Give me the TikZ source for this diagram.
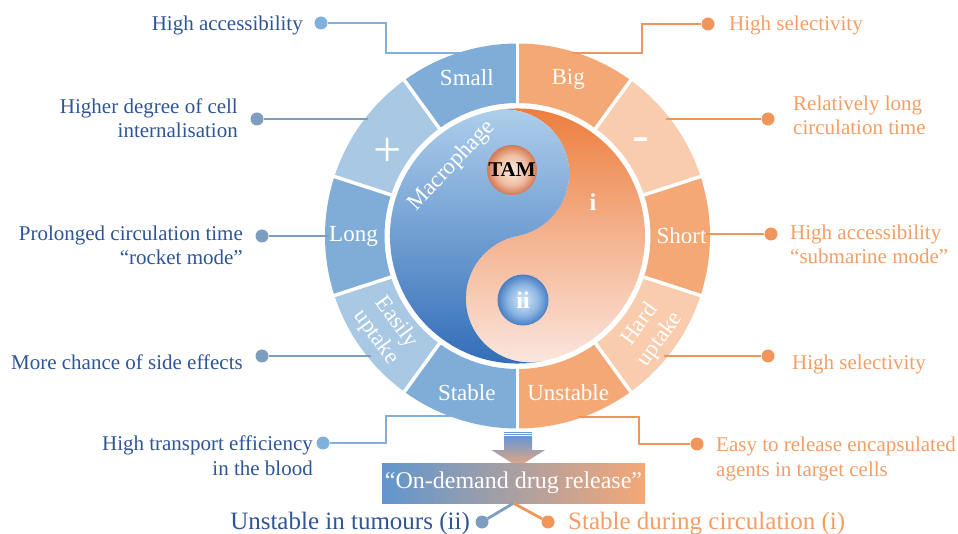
\documentclass[tikz,border=0pt]{standalone}
\usepackage{fontspec}
\setmainfont{Liberation Serif}
\definecolor{segB}{RGB}{128,173,216}
\definecolor{segBl}{RGB}{168,200,228}
\definecolor{segO}{RGB}{244,168,118}
\definecolor{segOl}{RGB}{248,204,172}
\definecolor{ltxt}{RGB}{47,85,151}
\definecolor{rtxt}{RGB}{242,158,102}
\definecolor{lineBa}{RGB}{128,176,220}
\definecolor{lineBb}{RGB}{126,158,192}
\definecolor{lineO}{RGB}{240,150,90}
\definecolor{yyBa}{RGB}{176,208,236}
\definecolor{yyBm}{RGB}{118,164,213}
\definecolor{yyBb}{RGB}{45,105,182}
\definecolor{yyOa}{RGB}{236,122,55}
\definecolor{yyOm}{RGB}{242,165,128}
\definecolor{yyOb}{RGB}{251,232,225}
\definecolor{boxL}{RGB}{96,150,206}
\definecolor{boxM}{RGB}{178,160,178}
\definecolor{boxR}{RGB}{245,168,118}
\definecolor{arrT}{RGB}{100,150,210}
\definecolor{arrB}{RGB}{240,168,125}
\definecolor{tamA}{RGB}{252,234,222}
\definecolor{tamB}{RGB}{240,190,164}
\definecolor{tamC}{RGB}{210,120,84}
\definecolor{iiA}{RGB}{214,232,249}
\definecolor{iiB}{RGB}{140,182,226}
\definecolor{iiC}{RGB}{72,126,196}
\pgfdeclareradialshading{tamshade}{\pgfpoint{0bp}{0bp}}{color(0bp)=(tamA); color(15bp)=(tamB); color(25bp)=(tamC); color(50bp)=(tamC)}
\pgfdeclareradialshading{iishade}{\pgfpoint{0bp}{0bp}}{color(0bp)=(iiA); color(15bp)=(iiB); color(25bp)=(iiC); color(50bp)=(iiC)}
\begin{document}
\begin{tikzpicture}[x=1pt,y=1pt,
  sidefont/.style={font=\fontsize{21}{24.5}\selectfont},
  lefttext/.style={sidefont,text=ltxt,align=right,inner sep=0pt,anchor=base east},
  righttext/.style={sidefont,text=rtxt,align=left,inner sep=0pt,anchor=base west},
  seglabel/.style={font=\fontsize{23}{25}\selectfont,text=white,align=center,inner sep=0pt},
  bigsign/.style={font=\fontsize{50}{50}\selectfont,text=white,inner sep=0pt},
  dotshape/.style={circle,inner sep=0pt,minimum size=13pt},
  dotBa/.style={dotshape,fill=lineBa},
  dotBb/.style={dotshape,fill=lineBb},
  dotO/.style={dotshape,fill=lineO},
  connBa/.style={draw=lineBa,line width=2.8pt},
  connBb/.style={draw=lineBb,line width=2.8pt},
  connO/.style={draw=lineO,line width=2.8pt}]
\useasboundingbox (0,0) rectangle (958,533);

% ring segments
\begin{scope}[shift={(517.5,297)}]
\foreach \a/\b/\c in {54/90/segO, 18/54/segOl, -18/18/segO, -54/-18/segOl, -90/-54/segO, -126/-90/segB, -162/-126/segBl, 162/198/segB, 126/162/segBl, 90/126/segB}
  \fill[\c] (\a:192.5) arc[start angle=\a, end angle=\b, radius=192.5] -- (\b:133) arc[start angle=\b, end angle=\a, radius=133] -- cycle;
\foreach \a in {90,54,...,-234}
  \draw[white, line width=3.5pt] (\a:130) -- (\a:196);
\end{scope}

% yin-yang
\begin{scope}[shift={(517.5,297)}, rotate=11]
\shade[shading angle=20, top color=yyOa, middle color=yyOm, bottom color=yyOb]
  (0,127.5) arc[start angle=90,end angle=-90,radius=63.75]
  arc[start angle=90,end angle=270,radius=63.75]
  arc[start angle=-90,end angle=90,radius=127.5] -- cycle;
\shade[shading angle=50, top color=yyBa, middle color=yyBm, bottom color=yyBb]
  (0,127.5) arc[start angle=90,end angle=-90,radius=63.75]
  arc[start angle=90,end angle=270,radius=63.75]
  arc[start angle=-90,end angle=-270,radius=127.5] -- cycle;
\end{scope}

% balls
\shade[shading=tamshade] (512,363) circle[radius=25];
\node[font=\bfseries\fontsize{21}{21}\selectfont, text=black, inner sep=0pt] (tam) at (512,363) {TAM};
\shade[shading=iishade] (523,233) circle[radius=25.5];
\node[font=\bfseries\fontsize{24}{24}\selectfont, text=white, inner sep=0pt] (ii) at (523,233) {ii};
\node[font=\bfseries\fontsize{24}{24}\selectfont, text=white, inner sep=0pt] (i) at (593,331) {i};
\node[font=\fontsize{23}{23}\selectfont, text=white, inner sep=0pt, rotate=47] (macro) at (452,367) {Macrophage};

% segment labels
\node[seglabel] (small) at (466.8,455) {Small};
\node[seglabel] (big) at (568.2,454) {Big};
\node[bigsign] (plus) at (388,381) {+};
\node[bigsign] (minus) at (641,388) {-};
\node[seglabel] (long) at (353.5,297) {Long};
\node[seglabel] (short) at (681.5,297) {Short};
\node[seglabel, rotate=-54] (easy) at (386,203) {Easily\\uptake};
\node[seglabel, rotate=54] (hard) at (650.2,201) {Hard\\uptake};
\node[seglabel] (stable) at (466.8,140) {Stable};
\node[seglabel] (unstable) at (568.2,140) {Unstable};

% left texts (base = last line)
\node[lefttext] (tL1) at (303,502) {High accessibility};
\node[lefttext] (tL2) at (238,395) {Higher degree of cell\\internalisation};
\node[lefttext] (tL3) at (243,268) {Prolonged circulation time\\“rocket mode”};
\node[lefttext] (tL4) at (243,163) {More chance of side effects};
\node[lefttext] (tL5) at (313,58) {High transport efficiency\\in the blood};
% right texts
\node[righttext] (tR1) at (729,502) {High selectivity};
\node[righttext] (tR2) at (793,398) {Relatively long\\circulation time};
\node[righttext] (tR3) at (790,269) {High accessibility\\“submarine mode”};
\node[righttext] (tR4) at (792,163) {High selectivity};
\node[righttext] (tR5) at (716,57) {Easy to release encapsulated\\agents in target cells};

% connector points
\coordinate (eL1) at (462,480); \coordinate (kL1) at (386,480);
\coordinate (eL2) at (368,414);
\coordinate (eL3) at (329,297);
\coordinate (eL4) at (371,177);
\coordinate (eL5) at (455,117); \coordinate (kL5) at (386,117);
\coordinate (eR1) at (572,480); \coordinate (kR1) at (642,509);
\coordinate (eR2) at (666,414);
\coordinate (eR3) at (706,299);
\coordinate (eR4) at (664,177);
\coordinate (eR5) at (578,116); \coordinate (kR5) at (639,89);

\node[dotBa] (dL1) at (321,510) {};
\node[dotBb] (dL2) at (257,414) {};
\node[dotBb] (dL3) at (262,297) {};
\node[dotBb] (dL4) at (262,177) {};
\node[dotBa] (dL5) at (323,90) {};
\node[dotO] (dR1) at (708,509) {};
\node[dotO] (dR2) at (768,414) {};
\node[dotO] (dR3) at (771,299) {};
\node[dotO] (dR4) at (768,177) {};
\node[dotO] (dR5) at (697,89) {};

\path[connBa] (dL1) -| (kL1) -- (eL1);
\path[connBb] (dL2) -- (eL2);
\path[connBb] (dL3) -- (eL3);
\path[connBb] (dL4) -- (eL4);
\path[connBa] (dL5) -| (kL5) -- (eL5);
\path[connO] (eR1) -| (kR1) -- (dR1);
\path[connO] (eR2) -- (dR2);
\path[connO] (eR3) -- (dR3);
\path[connO] (eR4) -- (dR4);
\path[connO] (eR5) -| (kR5) -- (dR5);

% arrow
\fill[arrT] (504,100.3) rectangle (532,101.3);
\fill[arrT] (504,98.3) rectangle (532,99.3);
\shade[top color=arrT, bottom color=arrB] (504,97) -- (532,97) -- (532,83) -- (545,83) -- (518,66) -- (491.5,83) -- (504,83) -- cycle;

% box
\node[left color=boxL, middle color=boxM, right color=boxR, minimum width=263pt, minimum height=40pt, inner sep=0pt, text=white, font=\fontsize{24}{24}\selectfont] (box) at (513.5,50) {“On-demand drug release”};

\node[dotBb] (dB1) at (482,11) {};
\node[dotO] (dB2) at (548,11) {};
\path[connBb] (box.south) -- (dB1);
\path[connO] (box.south) -- (dB2);
\node[font=\fontsize{25}{25}\selectfont, text=ltxt, inner sep=0pt, anchor=base east] (bL) at (470,4) {Unstable in tumours (ii)};
\node[font=\fontsize{25}{25}\selectfont, text=rtxt, inner sep=0pt, anchor=base west] (bR) at (568,4) {Stable during circulation (i)};
\end{tikzpicture}
\end{document}
